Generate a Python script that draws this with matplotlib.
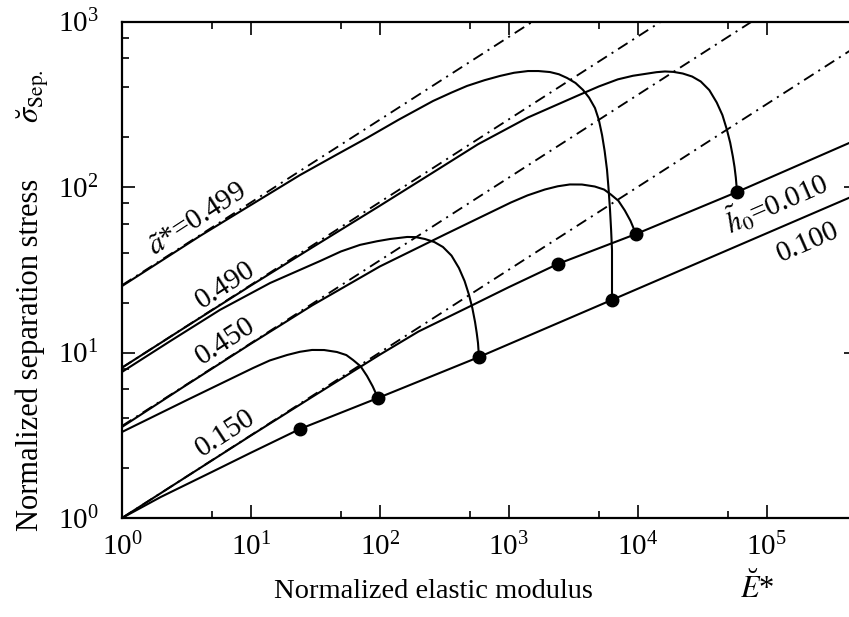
import matplotlib
matplotlib.use("Agg")
import matplotlib.pyplot as plt
from matplotlib.ticker import LogLocator, NullFormatter, LogFormatterMathtext

plt.rcParams['font.family'] = 'serif'
plt.rcParams['font.serif'] = ['Liberation Serif', 'DejaVu Serif']
plt.rcParams['mathtext.fontset'] = 'stix'

# ---- data -------------------------------------------------------------
# asymptotes (dash-dot) for each a*: stress at E = 1 and E = 5e5
asym_E = [1.0, 5.0e5]
asym_a499 = [25.5, 18030.0]
asym_a490 = [8.1, 5727.0]
asym_a450 = [3.6, 2546.0]
asym_a150 = [1.0, 707.0]

# separation curves, h0 = 0.100
h100_a150_E = [1.0, 2.0, 5.0, 10.0, 24.0]
h100_a150_s = [1.0, 1.34, 1.90, 2.48, 3.45]
h100_a450_E = [1.0, 3.19, 5.76, 10.4, 14.0, 19.1, 24.0, 29.8, 37.0, 46.5, 55.0, 62.0,
               71.0, 79.6, 88.0, 96.8]
h100_a450_s = [3.31, 5.16, 6.45, 8.06, 8.95, 9.66, 10.1, 10.36, 10.35, 10.07, 9.65, 9.01,
               8.25, 7.21, 6.25, 5.31]
h100_a490_E = [1.0, 2.36, 5.76, 14.1, 34.4, 50.0, 70.2, 95.0, 120, 163, 190, 224, 265,
               309, 360, 411, 455, 492, 522, 548, 565, 578, 588]
h100_a490_s = [7.63, 11.7, 18.1, 26.3, 35.7, 40.8, 44.7, 47.0, 48.5, 49.9, 49.8, 48.5, 46.5,
               43.4, 38.5, 32.4, 27.0, 22.3, 18.6, 15.3, 13.1, 11.4, 9.39]
h100_a499_E = [1.0, 4.03, 24.0, 45.0, 79.6, 140, 259, 360, 475, 650, 857, 1100, 1413, 1700,
               2090, 2450, 2834, 3300, 3770, 4200, 4670, 5000, 5300, 5550, 5790, 5950,
               6110, 6230, 6330, 6330]
h100_a499_s = [25.2, 50.6, 118, 155, 198, 255, 331, 372, 408, 442, 469, 490, 502, 502,
               495, 480, 456, 425, 386, 347, 300, 255, 206, 165, 127, 98,
               72.6, 55.0, 41.6, 20.8]

# separation curves, h0 = 0.010
h010_a150_E = [1.0, 3.0, 10.0, 30.0, 100, 200, 500, 1000, 2410]
h010_a150_s = [1.0, 1.73, 3.15, 5.4, 9.7, 13.4, 19.0, 24.8, 34.3]
h010_a450_E = [1.0, 3.0, 10.0, 30.0, 100, 319, 576, 1040, 1400, 1910, 2400, 2980, 3700,
               4650, 5500, 6200, 7100, 7960, 8800, 9720]
h010_a450_s = [3.55, 6.2, 11.3, 19.3, 33.1, 51.6, 64.5, 80.6, 89.0, 96.6, 101.0, 103.6, 103.5,
               100.7, 96.5, 90.1, 82.5, 72.1, 62.5, 52.0]
h010_a490_E = [1.0, 3.0, 10.0, 30.0, 100, 236, 576, 1410, 3440, 5000, 7020, 9200, 12000,
               14000, 16300, 19000, 22400, 26500, 30900, 36000, 41100, 45500, 49200,
               52300, 54800, 56500, 57800, 59100]
h010_a490_s = [8.1, 14.0, 25.4, 43.2, 77.0, 117, 181, 263, 357, 405, 447, 470, 485,
               494, 499, 496, 485, 465, 434, 385, 324, 272, 223,
               185, 153, 132, 114, 93.3]

# separation points and their loci
sep_h100_E = [24.0, 96.8, 588, 6330]
sep_h100_s = [3.45, 5.31, 9.39, 20.8]
sep_h010_E = [2410, 9720, 59100]
sep_h010_s = [34.3, 52.0, 93.3]
locus_end_E = 5.0e5
locus_end_h100 = 90.0
locus_end_h010 = 193.0

# ---- figure -----------------------------------------------------------
W, H = 849, 617
fig = plt.figure(figsize=(W / 100, H / 100), dpi=100)
ax = fig.add_axes([122 / W, 99 / H, 734.6 / W, 496.5 / H])
ax.set_xscale('log')
ax.set_yscale('log')

dashdot = (0, (6, 3, 1.1, 3))
for s in (asym_a499, asym_a490, asym_a450, asym_a150):
    ax.plot(asym_E, s, color='black', lw=1.35, ls=dashdot)

solid = dict(color='black', lw=1.5, solid_capstyle='round', solid_joinstyle='round')
for E, s in ((h100_a150_E, h100_a150_s), (h100_a450_E, h100_a450_s),
             (h100_a490_E, h100_a490_s), (h100_a499_E, h100_a499_s),
             (h010_a150_E, h010_a150_s), (h010_a450_E, h010_a450_s),
             (h010_a490_E, h010_a490_s)):
    ax.plot(E, s, **solid)

ax.plot(sep_h100_E + [locus_end_E], sep_h100_s + [locus_end_h100], **solid)
ax.plot(sep_h010_E + [locus_end_E], sep_h010_s + [locus_end_h010], **solid)
ax.plot(sep_h100_E + sep_h010_E, sep_h100_s + sep_h010_s, 'o', color='black',
        ms=9, zorder=5)

ax.set_xlim(1, 5.0e5)
ax.set_ylim(1, 1e3)

ax.xaxis.set_major_locator(LogLocator(base=10, numticks=12))
ax.xaxis.set_minor_locator(LogLocator(base=10, subs=[5.0], numticks=12))
ax.yaxis.set_major_locator(LogLocator(base=10, numticks=12))
ax.yaxis.set_minor_locator(LogLocator(base=10, subs=[2.0, 4.0, 6.0, 8.0], numticks=12))
ax.xaxis.set_major_formatter(LogFormatterMathtext())
ax.yaxis.set_major_formatter(LogFormatterMathtext())
ax.xaxis.set_minor_formatter(NullFormatter())
ax.yaxis.set_minor_formatter(NullFormatter())
ax.tick_params(which='both', direction='in', top=True, right=True, width=1.2)
ax.tick_params(which='major', length=9.5, labelsize=21)
ax.tick_params(which='minor', length=5.2)
ax.tick_params(axis='x', which='major', pad=11)
ax.tick_params(axis='y', which='major', pad=17)
for sp in ax.spines.values():
    sp.set_linewidth(1.6)

lab = dict(fontsize=21, ha='center', va='center')
ax.text(3.9, 63.3, r'$\tilde{a}$*=0.499', rotation=33, **lab)
ax.text(6.4, 25.6, '0.490', rotation=33, **lab)
ax.text(6.4, 11.7, '0.450', rotation=33, **lab)
ax.text(6.4, 3.26, '0.150', rotation=33, **lab)
ax.text(1.19e5, 81.1, r'$\tilde{h}_0$=0.010', rotation=23.6, **lab)
ax.text(2.1e5, 46.5, '0.100', rotation=23.6, **lab)

fig.text(433 / W, 1 - 598 / H, 'Normalized elastic modulus', fontsize=20.5,
         ha='center', va='baseline')
fig.text(757 / W, 1 - 598 / H, r'$\breve{E}$*', fontsize=22,
         ha='center', va='baseline')
fig.text(30.5 / W, 1 - 355 / H, 'Normalized separation stress', fontsize=22,
         rotation=90, ha='center', va='center')
fig.text(33 / W, 1 - 96 / H, r'$\breve{\sigma}_{\rm Sep.}$', fontsize=22,
         rotation=90, ha='center', va='center')

fig.savefig('out.png', dpi=100)
